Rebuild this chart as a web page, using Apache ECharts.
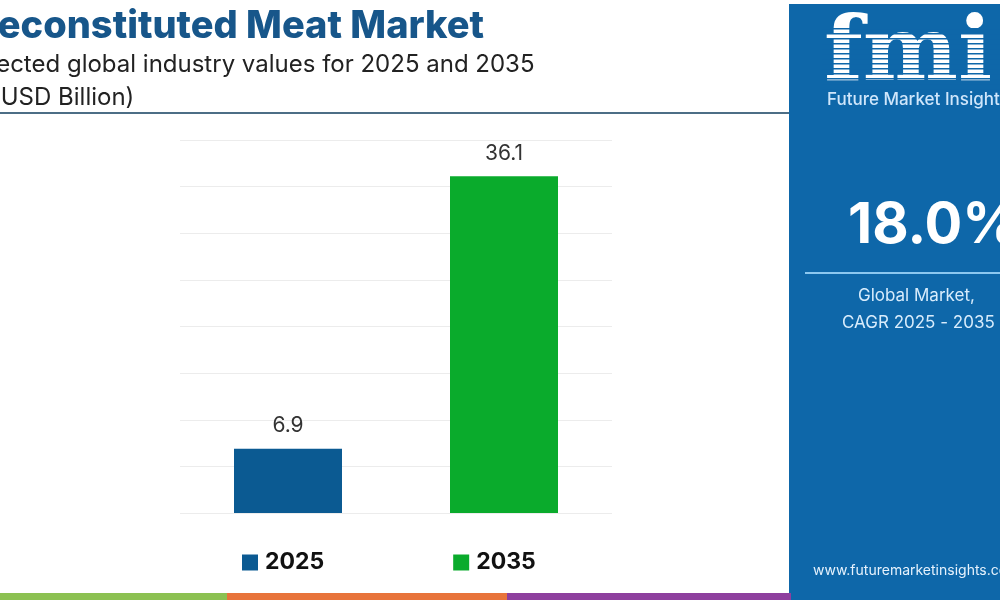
<!DOCTYPE html>
<html>
<head>
<meta charset="utf-8">
<script src="https://cdn.jsdelivr.net/npm/echarts@6/dist/echarts.min.js"></script>
<style>
  html, body { margin: 0; padding: 0; background: #fff; }
  #chart { width: 1000px; height: 600px; }
</style>
</head>
<body>
<div id="chart"></div>
<script>
// values
const categories = ["2025", "2035"];
const values = [6.9, 36.1];
const barColors = ["#0b5a92", "#0aab2c"];
const yMin = 0, yMax = 40, yStep = 5;

const panelBlue = "#0e67a9";
const stripColors = ["#8cc152", "#e8743b", "#8e3f9e", "#0e67a9"];
const stripStops = [0, 227, 507, 791, 1000];

let series = categories.map(function (name, i) {
  return {
    name: name,
    type: "bar",
    barWidth: 108,
    barGap: "-100%",
    data: values.map(function (v, j) { return j === i ? v : "-"; }),
    itemStyle: { color: barColors[i] },
    label: {
      show: true,
      position: "top",
      distance: 12,
      color: "#333",
      fontSize: 21,
      fontFamily: "Inter"
    }
  };
});

let strips = stripColors.map(function (c, i) {
  return {
    type: "rect",
    shape: { x: stripStops[i], y: 593, width: stripStops[i + 1] - stripStops[i], height: 7 },
    style: { fill: c }
  };
});

// thin stripes across the logo letters
let logoStripes = [];
for (let y = 28; y < 92; y += 5) {
  logoStripes.push({
    type: "rect",
    shape: { x: 822, y: y, width: 178, height: 1.5 },
    style: { fill: panelBlue }
  });
}

let option = {
  backgroundColor: "#fff",
  animation: false,
  grid: { left: 180, right: 388, top: 140, bottom: 87 },
  legend: {
    left: 237,
    top: 546,
    itemWidth: 16,
    itemHeight: 16,
    itemGap: 129,
    icon: "rect",
    textStyle: { fontSize: 23, fontWeight: "bold", color: "#111", fontFamily: "Inter", padding: [0, 0, 0, 2] },
    data: categories
  },
  xAxis: {
    type: "category",
    data: categories,
    axisLine: { show: false },
    axisTick: { show: false },
    axisLabel: { show: false }
  },
  yAxis: {
    type: "value",
    min: yMin,
    max: yMax,
    interval: yStep,
    axisLabel: { show: false },
    axisLine: { show: false },
    axisTick: { show: false },
    splitLine: { lineStyle: { color: "#ececec", width: 1 } }
  },
  series: series,
  graphic: [
    {
      type: "text", left: -27, top: 8,
      style: { text: "Reconstituted Meat Market", fill: "#17568a", font: "800 38px Inter" }
    },
    {
      type: "text", left: -48, top: 53,
      style: { text: "Projected global industry values for 2025 and 2035", fill: "#222", font: "24px Inter" }
    },
    {
      type: "text", left: -8, top: 86,
      style: { text: "(USD Billion)", fill: "#222", font: "24px Inter" }
    },
    {
      type: "rect",
      shape: { x: 0, y: 112, width: 790, height: 2 },
      style: { fill: "#4c6e86" }
    },
    {
      type: "rect",
      shape: { x: 789, y: 4, width: 211, height: 589 },
      style: { fill: panelBlue }
    },
    {
      type: "text", left: 824, top: 12,
      style: { text: "fmi", fill: "#ffffff", font: "bold 90px 'DejaVu Serif'" }
    }
  ].concat(logoStripes, [
    {
      type: "text", left: 827, top: 91,
      style: { text: "Future Market Insights", fill: "#cfe6fb", font: "500 17px Inter" }
    },
    {
      type: "text", left: 848, top: 198,
      style: { text: "18.0%", fill: "#ffffff", font: "bold 56px Inter" }
    },
    {
      type: "rect",
      shape: { x: 805, y: 272, width: 195, height: 2 },
      style: { fill: "#8cc8f0" }
    },
    {
      type: "text", left: 858, top: 287,
      style: { text: "Global Market,", fill: "#d8ecfc", font: "17px Inter" }
    },
    {
      type: "text", left: 842, top: 314,
      style: { text: "CAGR 2025 - 2035", fill: "#d8ecfc", font: "17px Inter" }
    },
    {
      type: "text", left: 813, top: 564,
      style: { text: "www.futuremarketinsights.com", fill: "#e6f2fd", font: "14px Inter" }
    }
  ], strips)
};

let dom = echarts.init(document.getElementById("chart"));
dom.setOption(option);
</script>
</body>
</html>
